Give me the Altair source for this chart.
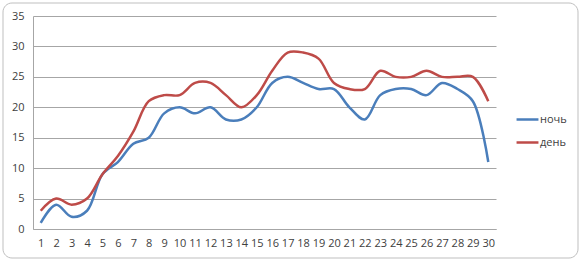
import altair as alt
import pandas as pd

days = list(range(1, 31))
night = [1, 4, 2, 3, 9, 11, 14, 15, 19, 20, 19, 20, 18, 18, 20, 24, 25, 24, 23, 23,
         20, 18, 22, 23, 23, 22, 24, 23, 21, 11]
day = [3, 5, 4, 5, 9, 12, 16, 21, 22, 22, 24, 24, 22, 20, 22, 26, 29, 29, 28, 24,
       23, 23, 26, 25, 25, 26, 25, 25, 25, 21]
series_names = ["ночь", "день"]
colors = ["#4A7EBB", "#BE4B48"]

rows = []
for i, d in enumerate(days):
    rows.append({"day": str(d), "series": series_names[0], "value": night[i]})
    rows.append({"day": str(d), "series": series_names[1], "value": day[i]})
df = pd.DataFrame(rows)

font = "Open Sans"

lines = alt.Chart(df).mark_line(
    interpolate="catmull-rom", strokeWidth=2.5
).encode(
    x=alt.X("day:N", sort=[str(d) for d in days], title=None,
            axis=alt.Axis(labelAngle=0, ticks=False, domain=True, domainColor="#A6A6A6",
                          labelPadding=8, labelFontSize=11, labelColor="#404040",
                          labelFont=font, grid=False)),
    y=alt.Y("value:Q", scale=alt.Scale(domain=[0, 35]), title=None,
            axis=alt.Axis(values=[0, 5, 10, 15, 20, 25, 30, 35], ticks=False,
                          domain=True, domainColor="#A6A6A6", gridColor="#A6A6A6",
                          labelPadding=9, labelFontSize=11, labelColor="#404040",
                          labelFont=font)),
    color=alt.Color("series:N", sort=series_names,
                    scale=alt.Scale(domain=series_names, range=colors),
                    legend=alt.Legend(title=None, orient="none", legendX=482, legendY=91,
                                      symbolType="stroke", symbolStrokeWidth=2.5,
                                      symbolSize=480, labelFont=font, labelFontSize=11,
                                      labelColor="#404040", rowPadding=5, labelOffset=0)),
)

border = alt.Chart(pd.DataFrame({"a": [0]})).mark_rect(
    fill=None, stroke="#BFBFBF", strokeWidth=1, cornerRadius=9, clip=False
).encode(
    x=alt.value(-30), x2=alt.value(545), y=alt.value(-13), y2=alt.value(242)
)

chart = alt.layer(border, lines).properties(
    width=463, height=213,
    padding={"left": 33, "top": 16, "right": 86, "bottom": 34},
    autosize=alt.AutoSizeParams(type="none"),
    background="white",
).configure_view(stroke=None)

chart.save("out.html", embed_options={"renderer": "svg", "actions": False})
